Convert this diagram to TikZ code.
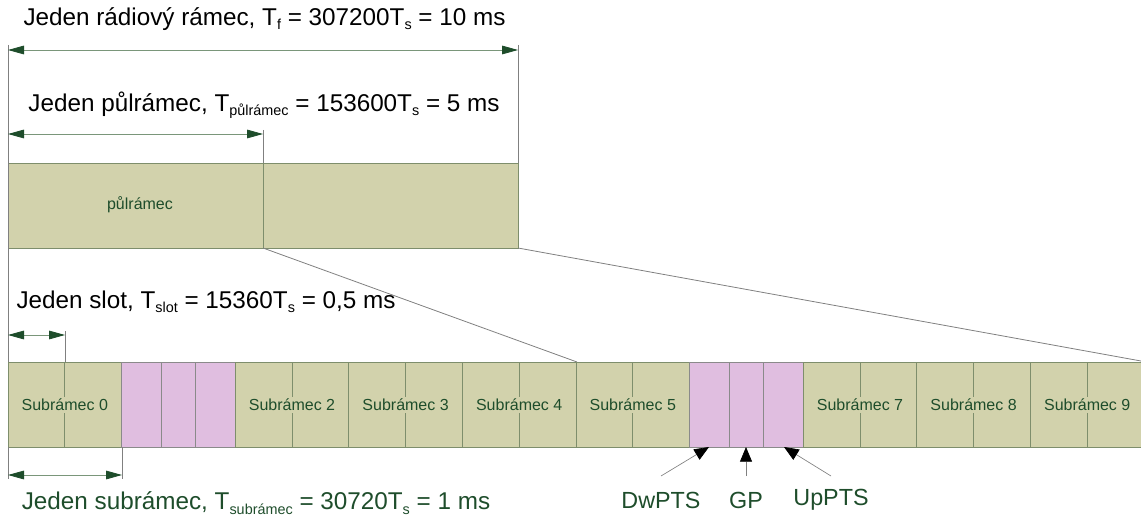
\documentclass[tikz,border=0pt]{standalone}
\usepackage{fontspec}
\setmainfont{Liberation Sans}
\usetikzlibrary{arrows.meta}
\definecolor{frfill}{HTML}{D2D2AC}
\definecolor{frline}{HTML}{7E8E6C}
\definecolor{pkfill}{HTML}{E0BEE0}
\definecolor{pkline}{HTML}{8A8A8A}
\definecolor{dgreen}{HTML}{1E4D2B}
\definecolor{dimline}{HTML}{7A967A}
\definecolor{extline}{HTML}{808080}
\newcommand\sbs[1]{\raisebox{-0.35ex}{\fontsize{10.8pt}{10.8pt}\selectfont #1}}
\tikzset{
  dimarrow/.style={line width=0.6pt, draw=dimline,
    {Triangle[length=12pt,width=6.5pt,color=dgreen]}-{Triangle[length=12pt,width=6.5pt,color=dgreen]}},
  extl/.style={line width=0.6pt, draw=extline},
  bigtext/.style={font=\fontsize{17.5pt}{20pt}\selectfont, inner sep=0pt},
  headtext/.style={font=\fontsize{18.2pt}{21pt}\selectfont, inner sep=0pt},
  smalltext/.style={font=\fontsize{12pt}{14pt}\selectfont, text=dgreen, fill=frfill, inner sep=1.5pt},
  framebox/.style={fill=frfill, draw=frline, line width=0.6pt},
  pinkbox/.style={fill=pkfill, draw=pkline, line width=0.6pt},
  ptrarrow/.style={line width=0.5pt, draw=extline, -{Triangle[length=11pt,width=9pt,color=black]}},
}
\begin{document}
\begin{tikzpicture}[x=0.75pt,y=-0.75pt]
\useasboundingbox (0,0) rectangle (1141,520);

% half-frame box
\draw[framebox] (8,163) rectangle (518,248);
\draw[framebox] (263,163) -- (263,248);
\node[smalltext] (pul) at (140,205) {půlrámec};

% zoom lines
\coordinate (hmidB) at (263,248);
\coordinate (hendB) at (518,248);
\coordinate (s5L) at (577,362);
\coordinate (rowR) at (1141,361);
\draw[extl] (hmidB) -- (s5L);
\draw[extl] (hendB) -- (rowR);

% subframe row
\foreach \i in {0,...,9}{
  \pgfmathsetmacro{\xa}{8+113.6*\i}
  \pgfmathsetmacro{\xb}{8+113.6*(\i+1)}
  \ifnum\i=1
    \draw[pinkbox] (\xa,362) rectangle (\xb,447);
    \draw[pinkbox] (\xa+40,362) -- (\xa+40,447);
    \draw[pinkbox] (\xa+74,362) -- (\xa+74,447);
  \else\ifnum\i=6
    \draw[pinkbox] (\xa,362) rectangle (\xb,447);
    \draw[pinkbox] (\xa+40,362) -- (\xa+40,447);
    \draw[pinkbox] (\xa+74,362) -- (\xa+74,447);
  \else
    \draw[framebox] (\xa,362) rectangle (\xb,447);
    \draw[framebox] (\xa+56.8,362) -- (\xa+56.8,447);
    \node[smalltext] (sf\i) at (\xa+56.8,405) {Subrámec \i};
  \fi\fi
}

% radio frame dimension
\coordinate (rfL) at (8,50);
\coordinate (rfR) at (518,50);
\draw[extl] (8,45) -- (8,362);
\draw[extl] (518,45) -- (518,163);
\draw[dimarrow] (rfL) -- (rfR);
\node[headtext] (t1) at (264.5,19) {Jeden rádiový rámec, T\sbs{f} = 307200T\sbs{s} = 10 ms};

% half frame dimension
\coordinate (hfL) at (8,134);
\coordinate (hfR) at (263,134);
\draw[extl] (263,130) -- (263,163);
\draw[dimarrow] (hfL) -- (hfR);
\node[headtext] (t2) at (264,105) {Jeden půlrámec, T\sbs{půlrámec} = 153600T\sbs{s} = 5 ms};

% slot dimension
\coordinate (slL) at (8,335);
\coordinate (slR) at (65,335);
\draw[extl] (65,331) -- (65,362);
\draw[dimarrow] (slL) -- (slR);
\node[headtext] (t3) at (206,302) {Jeden slot, T\sbs{slot} = 15360T\sbs{s} = 0,5 ms};

% subframe dimension
\coordinate (sbL) at (8,475);
\coordinate (sbR) at (122,475);
\draw[extl] (8,447) -- (8,479);
\draw[extl] (122,447) -- (122,479);
\draw[dimarrow] (sbL) -- (sbR);
\node[headtext, text=dgreen] (t4) at (256,503) {Jeden subrámec, T\sbs{subrámec} = 30720T\sbs{s} = 1 ms};

% DwPTS / GP / UpPTS
\node[bigtext, text=dgreen] (dw) at (661,500) {DwPTS};
\node[bigtext, text=dgreen] (gp) at (746,500) {GP};
\node[bigtext, text=dgreen] (up) at (831,500) {UpPTS};
\coordinate (dwS) at (661,476);
\coordinate (dwE) at (709,447);
\coordinate (gpS) at (746,476);
\coordinate (gpE) at (746,447);
\coordinate (upS) at (831,476);
\coordinate (upE) at (784,447);
\draw[ptrarrow] (dwS) -- (dwE);
\draw[ptrarrow] (gpS) -- (gpE);
\draw[ptrarrow] (upS) -- (upE);
\end{tikzpicture}
\end{document}
